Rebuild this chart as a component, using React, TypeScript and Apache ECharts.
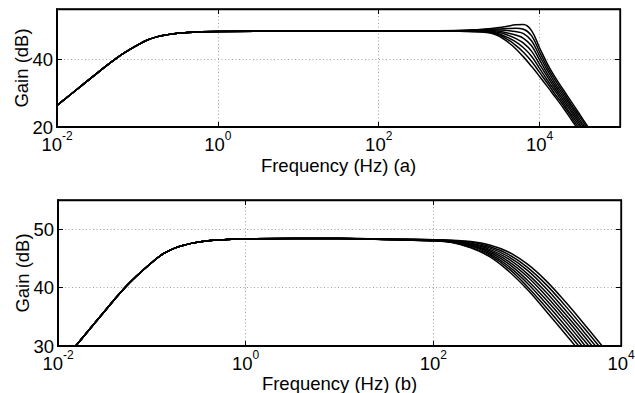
import React, { useEffect, useRef } from "react";
import * as echarts from "echarts";

const FONT = "'Liberation Sans', Arial, Helvetica, sans-serif";

// Shared low-frequency part (Hz, dB) — same roll-on in both panels
const lowFreq = [0.01, 0.0178, 0.0316, 0.0562, 0.1, 0.133, 0.178, 0.237, 0.316, 0.422, 0.562, 1, 10];
const lowGain = [26.4, 31.2, 36.0, 40.6, 44.3, 45.8, 46.8, 47.4, 47.8, 48.05, 48.2, 48.35, 48.4];

// Panel (a): high-frequency part
const topMidFreq = [100];
const topMidGain = [48.4];
const topHighFreq = [1000, 1778, 2512, 3162, 3981, 5012, 6310, 7943, 10000, 12589, 15849, 19953, 25119, 31623, 39811, 50119];
const topGain0 = [48.4, 48.2, 47.8, 46.9, 45.3, 43.3, 40.8, 38.0, 35.0, 31.9, 28.7, 25.5, 22.0, 18.6, 15.2, 11.8];
const topGain1 = [48.4, 48.3, 48.0, 47.3, 46.0, 44.3, 42.2, 39.5, 36.2, 32.9, 29.5, 26.3, 22.8, 19.3, 15.9, 12.5];
const topGain2 = [48.5, 48.4, 48.2, 47.6, 46.6, 45.3, 43.5, 41.0, 37.4, 33.8, 30.4, 27.0, 23.5, 20.1, 16.6, 13.1];
const topGain3 = [48.5, 48.5, 48.4, 48.0, 47.3, 46.3, 44.9, 42.5, 38.6, 34.8, 31.2, 27.8, 24.3, 20.8, 17.3, 13.8];
const topGain4 = [48.5, 48.6, 48.6, 48.4, 47.9, 47.3, 46.3, 44.1, 39.9, 35.7, 32.0, 28.6, 25.0, 21.5, 18.0, 14.5];
const topGain5 = [48.5, 48.7, 48.8, 48.8, 48.6, 48.3, 47.7, 45.6, 41.1, 36.7, 32.8, 29.4, 25.8, 22.2, 18.7, 15.2];
const topGain6 = [48.6, 48.8, 49.0, 49.1, 49.2, 49.3, 49.0, 47.1, 42.3, 37.6, 33.7, 30.1, 26.5, 23.0, 19.4, 15.8];
const topGain7 = [48.6, 48.9, 49.2, 49.5, 49.9, 50.3, 50.4, 48.6, 43.5, 38.6, 34.5, 30.9, 27.3, 23.7, 20.1, 16.5];
const topGains = [topGain0, topGain1, topGain2, topGain3, topGain4, topGain5, topGain6, topGain7];

// Panel (b): high-frequency part
const bottomHighFreq = [40, 100, 158, 251, 398, 631, 1000, 1585, 2512, 3981, 6310, 10000];
const bottomGain0 = [48.2, 48.0, 47.7, 46.8, 45.3, 42.85, 39.7, 36.0, 32.2, 28.3, 24.3, 20.3];
const bottomGain1 = [48.2, 48.0, 47.75, 46.9, 45.55, 43.3, 40.2, 36.65, 32.9, 29.0, 25.0, 21.0];
const bottomGain2 = [48.2, 48.05, 47.8, 47.1, 45.8, 43.7, 40.8, 37.3, 33.6, 29.7, 25.7, 21.75];
const bottomGain3 = [48.2, 48.1, 47.85, 47.2, 46.05, 44.1, 41.3, 37.95, 34.3, 30.4, 26.4, 22.5];
const bottomGain4 = [48.25, 48.1, 47.9, 47.35, 46.3, 44.5, 41.9, 38.6, 34.95, 31.1, 27.15, 23.2];
const bottomGain5 = [48.3, 48.1, 47.95, 47.5, 46.55, 44.9, 42.4, 39.25, 35.6, 31.8, 27.85, 23.9];
const bottomGain6 = [48.3, 48.15, 48.0, 47.6, 46.8, 45.3, 43.0, 39.9, 36.3, 32.5, 28.6, 24.65];
const bottomGain7 = [48.3, 48.2, 48.05, 47.8, 47.05, 45.7, 43.5, 40.55, 37.0, 33.2, 29.3, 25.4];
const bottomGain8 = [48.3, 48.2, 48.1, 47.9, 47.3, 46.1, 44.05, 41.2, 37.7, 33.9, 30.0, 26.1];
const bottomGains = [bottomGain0, bottomGain1, bottomGain2, bottomGain3, bottomGain4, bottomGain5, bottomGain6, bottomGain7, bottomGain8];

const xTitleA = "Frequency (Hz) (a)";
const xTitleB = "Frequency (Hz) (b)";
const yTitle = "Gain (dB)";

const pairs = (xs: number[], ys: number[]) => ys.map((y, i) => [xs[i], y]);

const logLabel = (v: number) => {
  const e = Math.round(Math.log10(v));
  if (e % 2 !== 0) return "";
  return `{b|10}{s|${e}}`;
};

const gridLine = { show: true, lineStyle: { color: "#8a8a8a", type: [1, 2.5] as any, width: 0.8 } };

const makeX = (gridIndex: number, max: number, name: string, showMax: boolean, nameGap: number) => [
  {
    gridIndex,
    type: "log",
    logBase: 100,
    min: 0.01,
    max,
    position: "bottom",
    axisLine: { show: true, lineStyle: { color: "#000", width: 2 } },
    axisTick: { show: true, inside: true, length: 5, lineStyle: { color: "#000", width: 1 } },
    minorTick: { show: false },
    axisLabel: {
      formatter: logLabel,
      margin: 3,
      showMaxLabel: showMax,
      showMinLabel: true,
      hideOverlap: false,
      color: "#000",
      rich: {
        b: { fontSize: 18.5, fontFamily: FONT, color: "#000", verticalAlign: "bottom" },
        s: { fontSize: 12, fontFamily: FONT, color: "#000", verticalAlign: "top", padding: [0, 0, 12, 0] },
      },
    },
    splitLine: gridLine,
    name,
    nameLocation: "middle",
    nameGap,
    nameMoveOverlap: false,
    nameTextStyle: { fontSize: 18.5, fontFamily: FONT, color: "#000", verticalAlign: "top" },
  },
  {
    gridIndex,
    type: "log",
    logBase: 100,
    min: 0.01,
    max,
    position: "top",
    axisLine: { show: true, lineStyle: { color: "#000", width: 1.3 } },
    axisTick: { show: true, inside: true, length: 5, lineStyle: { color: "#000", width: 1 } },
    axisLabel: { show: false },
    splitLine: { show: false },
  },
];

const makeY = (gridIndex: number, min: number, max: number, interval: number) => [
  {
    gridIndex,
    type: "value",
    min,
    max,
    interval,
    position: "left",
    axisLine: { show: true, lineStyle: { color: "#000", width: 2 } },
    axisTick: { show: true, inside: true, length: 5, lineStyle: { color: "#000", width: 1 } },
    axisLabel: { margin: 4, showMaxLabel: false, fontSize: 18.5, fontFamily: FONT, color: "#000" },
    splitLine: gridLine,
    name: yTitle,
    nameLocation: "middle",
    nameGap: 26,
    nameMoveOverlap: false,
    nameTextStyle: { fontSize: 18.5, fontFamily: FONT, color: "#000" },
  },
  {
    gridIndex,
    type: "value",
    min,
    max,
    interval,
    position: "right",
    axisLine: { show: true, lineStyle: { color: "#000", width: 1.3 } },
    axisTick: { show: true, inside: true, length: 5, lineStyle: { color: "#000", width: 1 } },
    axisLabel: { show: false },
    splitLine: { show: false },
  },
];

export default function App() {
  const ref = useRef<HTMLDivElement>(null);
  useEffect(() => {
    if (!ref.current) return;
    const chart = echarts.init(ref.current, null, { renderer: "svg" });
    const lineStyle = { color: "#000", width: 1.5 };
    const series: any[] = [];
    topGains.forEach((g, k) => {
      series.push({
        type: "line",
        name: `a${k}`,
        xAxisIndex: 0,
        yAxisIndex: 0,
        showSymbol: false,
        smooth: 0.4,
        clip: true,
        lineStyle,
        data: [...pairs(lowFreq, lowGain), ...pairs(topMidFreq, topMidGain), ...pairs(topHighFreq, g)],
      });
    });
    bottomGains.forEach((g, k) => {
      series.push({
        type: "line",
        name: `b${k}`,
        xAxisIndex: 2,
        yAxisIndex: 2,
        showSymbol: false,
        smooth: 0.4,
        clip: true,
        lineStyle,
        data: [...pairs(lowFreq, lowGain), ...pairs(bottomHighFreq, g)],
      });
    });
    chart.setOption({
      animation: false,
      backgroundColor: "#fff",
      textStyle: { fontFamily: FONT },
      grid: [
        { left: 57, right: 15, top: 9, height: 118, show: true, borderColor: "#000", borderWidth: 1.3, backgroundColor: "transparent", containLabel: false, outerBoundsMode: "none" },
        { left: 58, right: 14, top: 200, height: 146, show: true, borderColor: "#000", borderWidth: 1.3, backgroundColor: "transparent", containLabel: false, outerBoundsMode: "none" },
      ],
      xAxis: [...makeX(0, 100000, xTitleA, false, 29), ...makeX(1, 10000, xTitleB, true, 28)],
      yAxis: [...makeY(0, 20, 55, 20), ...makeY(1, 30, 55, 10)],
      series,
    });
    return () => chart.dispose();
  }, []);
  return (
    <div
      ref={ref}
      style={{ position: "fixed", left: 0, top: 0, width: 635, height: 393, background: "#fff" }}
    />
  );
}
